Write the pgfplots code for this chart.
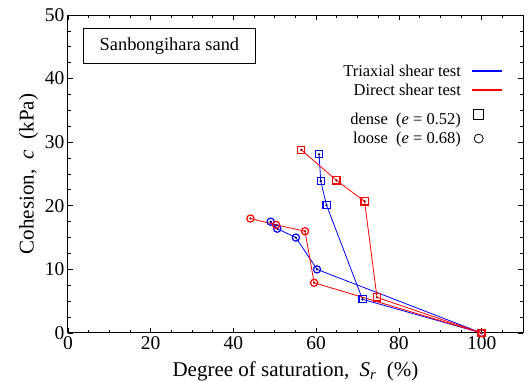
\documentclass[border=0pt]{standalone}
\usepackage{fontspec}
\setmainfont{Liberation Serif}
\usepackage{pgfplots}
\pgfplotsset{compat=1.18}
\pgfdeclareplotmark{sqd}{%
  \pgfpathrectangle{\pgfqpoint{-\pgfplotmarksize}{-\pgfplotmarksize}}{\pgfqpoint{2\pgfplotmarksize}{2\pgfplotmarksize}}%
  \pgfusepathqstroke
  \pgfpathcircle{\pgfpointorigin}{1.3pt}\pgfusepathqfill}
\pgfdeclareplotmark{cid}{%
  \pgfpathcircle{\pgfpointorigin}{\pgfplotmarksize}%
  \pgfusepathqstroke
  \pgfpathcircle{\pgfpointorigin}{1.3pt}\pgfusepathqfill}
\newcommand\lf{\fontsize{16.5}{18}\selectfont}
\begin{document}
\begin{tikzpicture}
\begin{axis}[name=ax, scale only axis, width=455pt, height=318pt,
  xmin=0, xmax=110, ymin=0, ymax=50,
  xtick={0,20,...,120}, ytick={0,10,...,50},
  minor x tick num=3, minor y tick num=3,
  tick align=inside, major tick length=5pt, minor tick length=3pt,
  axis line style={line width=1pt}, every tick/.style={black, line width=0.8pt},
  /pgf/number format/assume math mode=true,
  tick label style={font=\fontsize{19.5}{22}\selectfont},
  every axis label/.append style={font=\fontsize{21}{24}\selectfont},
  every axis x label/.append style={yshift=-5pt},
  xlabel={Degree of saturation,\ \ \textit{S\textsubscript{r}}\ \ (\%)},
  ylabel={Cohesion,\ \ \textit{c}\ \ (kPa)},
  legend plot pos=right, legend cell align=right,
  legend style={draw=none, fill=none, at={(rel axis cs:0.962,0.857)}, anchor=north east,
    column sep=8pt, row sep=2pt},
]
\addlegendimage{color=blue, draw=blue, line width=1.6pt, mark=none,
  legend image code/.code={\draw[draw=blue] plot coordinates {(0pt,0pt) (30pt,0pt)};}}
\addlegendentry{\lf Triaxial shear test}
\addlegendimage{color=red, draw=red, line width=1.6pt, mark=none,
  legend image code/.code={\draw[draw=red] plot coordinates {(0pt,0pt) (30pt,0pt)};}}
\addlegendentry{\lf Direct shear test}
\addlegendimage{only marks, color=black, mark=square, mark size=5pt, mark options={line width=0.8pt},
  legend image code/.code={\draw plot coordinates {(7pt,0pt)}; \path (0pt,0pt) (30pt,0pt);}}
\addlegendentry{\lf\rule{0pt}{22pt}dense\ \ (\textit{e} = 0.52)}
\addlegendimage{only marks, color=black, mark=o, mark size=4.5pt, mark options={line width=0.8pt},
  legend image code/.code={\draw plot coordinates {(7pt,0pt)}; \path (0pt,0pt) (30pt,0pt);}}
\addlegendentry{\lf loose\ \ (\textit{e} = 0.68)}

\addplot[forget plot, blue, line width=0.8pt, mark=cid, mark size=3.6pt, mark options={line width=1.2pt, fill=blue!40!black}]
  coordinates {(49.0,17.5)(50.6,16.4)(55.1,15.0)(60.2,10.0)(100,0)};
\addplot[forget plot, blue, line width=0.8pt, mark=sqd, mark size=3.6pt, mark options={line width=1.2pt, fill=blue!40!black}]
  coordinates {(60.7,28.1)(61.1,23.9)(62.5,20.1)(71.2,5.3)(100,0)};
\addplot[forget plot, red, line width=0.8pt, mark=cid, mark size=3.6pt, mark options={line width=1.2pt, fill=red!60!black}]
  coordinates {(44.1,18.0)(50.3,17.0)(57.3,16.0)(59.5,7.9)(100,0)};
\addplot[forget plot, red, line width=0.8pt, mark=sqd, mark size=3.6pt, mark options={line width=1.2pt, fill=red!60!black}]
  coordinates {(56.4,28.8)(64.9,24.0)(71.7,20.7)(74.7,5.6)(100,0)};

\node[draw, line width=0.8pt, anchor=north west, minimum width=172pt, minimum height=35pt,
  font=\fontsize{18.4}{21}\selectfont] at (rel axis cs:0.033,0.959) {Sanbongihara sand};
\end{axis}
\pgfresetboundingbox
\path[use as bounding box] ([xshift=-68pt,yshift=-49pt]ax.south west) rectangle ([xshift=5pt,yshift=15pt]ax.north east);
\end{tikzpicture}
\end{document}
